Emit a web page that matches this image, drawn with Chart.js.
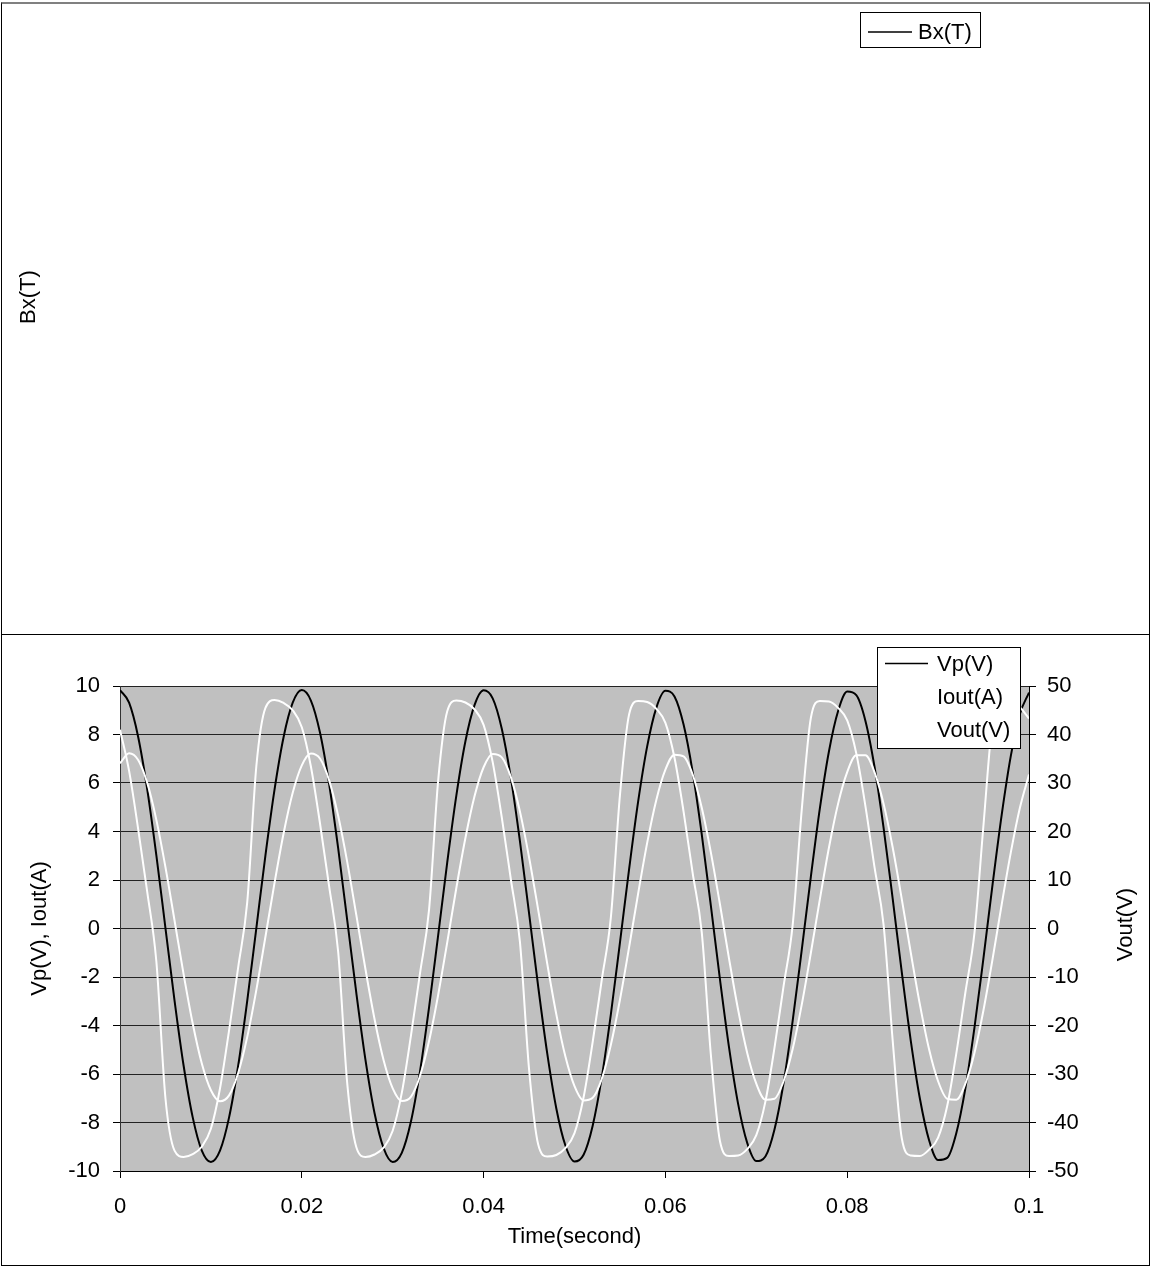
<!DOCTYPE html>
<html lang="en">
<head>
<meta charset="UTF-8">
<title>Bx(T) / Vp(V), Iout(A), Vout(V)</title>
<script src="https://cdn.jsdelivr.net/npm/chart.js"></script>
<style>
    body {
        margin: 0;
        background: #fff;
        width: 1151px;
        height: 1268px;
        position: relative;
        overflow: hidden;
    }

    canvas {
        position: absolute;
        left: 0;
    }

    #bxChart { top: 0; }
    #waveChart { top: 634px; }

    .frame {
        position: absolute;
        left: 1px;
        top: 2px;
        width: 1149px;
        height: 1264px;
        box-sizing: border-box;
        border: 1px solid #000;
        border-top: 2px solid #808080;
        pointer-events: none;
    }

    .divider {
        position: absolute;
        left: 1px;
        top: 634px;
        width: 1149px;
        height: 1px;
        background: #000;
    }
</style>
</head>
<body>
<canvas id="bxChart" width="1151" height="634"></canvas>
<canvas id="waveChart" width="1151" height="634"></canvas>
<div class="frame"></div>
<div class="divider"></div>

<script>
// time in milliseconds (0 .. 0.1 s)
const timeMs = [
    0, 1, 2, 3, 4, 5, 6, 7, 8, 9, 10, 11, 12, 13, 14, 15, 16, 17, 18, 19, 20,
    21, 22, 23, 24, 25, 26, 27, 28, 29, 30, 31, 32, 33, 34, 35, 36, 37, 38, 39, 40,
    41, 42, 43, 44, 45, 46, 47, 48, 49, 50, 51, 52, 53, 54, 55, 56, 57, 58, 59, 60,
    61, 62, 63, 64, 65, 66, 67, 68, 69, 70, 71, 72, 73, 74, 75, 76, 77, 78, 79, 80,
    81, 82, 83, 84, 85, 86, 87, 88, 89, 90, 91, 92, 93, 94, 95, 96, 97, 98, 99, 100
];

const vpValues = [
    9.83, 9.31, 7.90, 5.73, 3.02, 0.02, -2.97, -5.66, -7.79, -9.16, -9.63, -9.16, -7.79, -5.66, -2.97, 0.02, 3.02, 5.73, 7.90, 9.31, 9.83,
    9.40, 8.08, 5.98, 3.31, 0.33, -2.67, -5.41, -7.61, -9.06, -9.63, -9.25, -7.97, -5.90, -3.25, -0.28, 2.73, 5.48, 7.72, 9.21, 9.82,
    9.49, 8.24, 6.21, 3.59, 0.63, -2.38, -5.15, -7.42, -8.95, -9.61, -9.33, -8.13, -6.14, -3.54, -0.58, 2.43, 5.23, 7.52, 9.10, 9.80,
    9.57, 8.41, 6.45, 3.88, 0.94, -2.09, -4.90, -7.23, -8.84, -9.59, -9.40, -8.29, -6.37, -3.81, -0.88, 2.13, 4.97, 7.32, 8.97, 9.77,
    9.62, 8.57, 6.68, 4.16, 1.24, -1.79, -4.64, -7.02, -8.72, -9.55, -9.46, -8.44, -6.59, -4.09, -1.19, 1.84, 4.70, 7.12, 8.85, 9.73
];

const ioutValues = [
    6.81, 7.23, 6.95, 6.00, 4.48, 2.53, 0.33, -1.89, -3.92, -5.57, -6.67, -7.12, -6.88, -5.96, -4.47, -2.53, -0.34, 1.88, 3.93, 5.60, 6.73,
    7.22, 7.01, 6.12, 4.65, 2.74, 0.55, -1.67, -3.73, -5.43, -6.59, -7.11, -6.94, -6.08, -4.64, -2.74, -0.57, 1.67, 3.73, 5.45, 6.65,
    7.20, 7.06, 6.24, 4.82, 2.94, 0.78, -1.45, -3.54, -5.28, -6.50, -7.09, -6.98, -6.20, -4.80, -2.94, -0.79, 1.44, 3.54, 5.30, 6.55,
    7.17, 7.10, 6.35, 4.98, 3.14, 1.00, -1.24, -3.35, -5.13, -6.40, -7.06, -7.02, -6.30, -4.97, -3.14, -1.01, 1.22, 3.35, 5.15, 6.45,
    7.14, 7.14, 6.45, 5.15, 3.35, 1.22, -1.01, -3.14, -4.97, -6.30, -7.02, -7.06, -6.40, -5.13, -3.35, -1.24, 1.00, 3.14, 4.98, 6.35
];

const voutValues = [
    41.0, 32.5, 20.5, 7.5, -6.8, -35.0, -45.8, -47.1, -46.5, -45.0, -41.3, -33.0, -21.0, -8.0, 5.5, 33.5, 45.5, 47.1, 46.5, 45.0, 41.5,
    33.4, 21.7, 8.8, -4.8, -32.0, -45.1, -47.1, -46.6, -45.2, -41.7, -33.9, -22.2, -9.3, 3.9, 30.5, 44.8, 47.0, 46.6, 45.2, 42.0,
    34.3, 22.9, 10.1, -2.8, -29.0, -44.5, -47.0, -46.7, -45.3, -42.2, -34.8, -23.4, -10.6, 2.3, 27.5, 44.1, 46.9, 46.7, 45.3, 42.4,
    35.2, 24.1, 11.4, -0.8, -26.0, -43.8, -46.9, -46.8, -45.5, -42.6, -35.7, -24.6, -11.9, 0.7, 24.5, 43.4, 46.9, 46.8, 45.5, 42.9,
    36.1, 25.3, 12.7, 0.8, -23.0, -43.2, -46.8, -46.9, -45.6, -43.1, -36.6, -25.8, -13.2, -0.9, 21.5, 42.7, 46.8, 46.9, 45.6, 43.3
];

// the Bx(T) chart has no points
const bxValues = [];

const timeTicks = [0, 20, 40, 60, 80, 100];
const timeTickLabels = ['0', '0.02', '0.04', '0.06', '0.08', '0.1'];
const leftTicks = [-10, -8, -6, -4, -2, 0, 2, 4, 6, 8, 10];
const rightTicks = [-50, -40, -30, -20, -10, 0, 10, 20, 30, 40, 50];

Chart.defaults.font.family = "'Liberation Sans', Arial, sans-serif";
Chart.defaults.font.size = 22;
Chart.defaults.color = '#000';

const toPoints = values => values.map((v, i) => ({ x: timeMs[i], y: v }));

// legend in a white box with a black border, drawn over the plot
function boxLegend(id, box, rows) {
    return {
        id: id,
        afterDraw(chart) {
            const ctx = chart.ctx;
            ctx.save();
            ctx.fillStyle = '#fff';
            ctx.fillRect(box.x, box.y, box.w, box.h);
            ctx.strokeStyle = '#000';
            ctx.lineWidth = 1;
            ctx.strokeRect(box.x + 0.5, box.y + 0.5, box.w, box.h);
            ctx.font = "22px 'Liberation Sans', Arial, sans-serif";
            ctx.textBaseline = 'middle';
            ctx.textAlign = 'left';
            chart.data.datasets.forEach((ds, i) => {
                const y = rows.y[i];
                ctx.strokeStyle = ds.borderColor;
                ctx.lineWidth = 1.5;
                ctx.beginPath();
                ctx.moveTo(rows.lineX0, y);
                ctx.lineTo(rows.lineX1, y);
                ctx.stroke();
                ctx.fillStyle = '#000';
                ctx.fillText(ds.label, rows.textX, y + 1);
            });
            ctx.restore();
        }
    };
}

new Chart(document.getElementById('bxChart'), {
    type: 'line',
    data: {
        datasets: [
            { label: 'Bx(T)', data: bxValues, borderColor: '#000', borderWidth: 2, pointRadius: 0 }
        ]
    },
    options: {
        responsive: false,
        animation: false,
        layout: { padding: { left: 12, right: 0, top: 30, bottom: 70 } },
        plugins: { legend: { display: false }, tooltip: { enabled: false } },
        scales: {
            x: { type: 'linear', display: false },
            y: {
                display: true,
                ticks: { display: false },
                grid: { display: false },
                border: { display: false },
                title: { display: true, text: 'Bx(T)', padding: { top: 4, bottom: 0 } }
            }
        }
    },
    plugins: [boxLegend('bxLegend', { x: 860, y: 12, w: 120, h: 35 },
        { y: [32], lineX0: 868, lineX1: 912, textX: 918 })]
});

const plotBackground = {
    id: 'plotBackground',
    beforeDraw(chart) {
        const a = chart.chartArea;
        chart.ctx.save();
        chart.ctx.fillStyle = '#c0c0c0';
        chart.ctx.fillRect(a.left, a.top, a.right - a.left, a.bottom - a.top);
        chart.ctx.restore();
    }
};

const rightTitle = {
    id: 'rightTitle',
    afterDraw(chart) {
        const ctx = chart.ctx;
        const a = chart.chartArea;
        ctx.save();
        ctx.translate(1126, (a.top + a.bottom) / 2 - 4);
        ctx.rotate(-Math.PI / 2);
        ctx.font = "22px 'Liberation Sans', Arial, sans-serif";
        ctx.fillStyle = '#000';
        ctx.textAlign = 'center';
        ctx.textBaseline = 'middle';
        ctx.fillText('Vout(V)', 0, 0);
        ctx.restore();
    }
};

new Chart(document.getElementById('waveChart'), {
    type: 'line',
    data: {
        datasets: [
            {
                label: 'Vp(V)', data: toPoints(vpValues), yAxisID: 'y',
                borderColor: '#000', borderWidth: 2, pointRadius: 0,
                tension: 0.4, cubicInterpolationMode: 'monotone', order: 3
            },
            {
                label: 'Iout(A)', data: toPoints(ioutValues), yAxisID: 'y',
                borderColor: '#fff', borderWidth: 2, pointRadius: 0,
                tension: 0.4, cubicInterpolationMode: 'monotone', order: 2
            },
            {
                label: 'Vout(V)', data: toPoints(voutValues), yAxisID: 'y2',
                borderColor: '#fff', borderWidth: 2, pointRadius: 0,
                tension: 0.4, cubicInterpolationMode: 'monotone', order: 1
            }
        ]
    },
    options: {
        responsive: false,
        animation: false,
        layout: { padding: { left: 0, right: 0, top: 52, bottom: 0 } },
        plugins: { legend: { display: false }, tooltip: { enabled: false } },
        scales: {
            x: {
                type: 'linear',
                min: 0,
                max: 100,
                afterBuildTicks: s => { s.ticks = timeTicks.map(v => ({ value: v })); },
                afterFit: s => { s.height = 97; },
                ticks: { callback: (v, i) => timeTickLabels[i], padding: 16, maxRotation: 0, autoSkip: false },
                grid: { drawOnChartArea: false, tickLength: 7, tickColor: '#000' },
                border: { color: '#000' },
                title: { display: true, text: 'Time(second)', padding: { top: 0, bottom: 18 } }
            },
            y: {
                position: 'left',
                min: -10,
                max: 10,
                afterBuildTicks: s => { s.ticks = leftTicks.map(v => ({ value: v })); },
                afterFit: s => { s.width = 120; },
                ticks: { callback: v => String(v), padding: 13 },
                grid: { color: '#222', tickColor: '#000', tickLength: 7 },
                border: { color: '#333' },
                title: { display: true, text: 'Vp(V), Iout(A)', padding: { top: 27, bottom: 0 } }
            },
            y2: {
                position: 'right',
                min: -50,
                max: 50,
                afterBuildTicks: s => { s.ticks = rightTicks.map(v => ({ value: v })); },
                afterFit: s => { s.width = 122; },
                ticks: { callback: v => String(v), padding: 11 },
                grid: { drawOnChartArea: false, tickColor: '#000', tickLength: 7 },
                border: { color: '#000' }
            }
        }
    },
    plugins: [
        plotBackground,
        rightTitle,
        boxLegend('waveLegend', { x: 877, y: 13, w: 143, h: 101 },
            { y: [29.5, 63, 95.5], lineX0: 885, lineX1: 928, textX: 937 })
    ]
});
</script>
</body>
</html>
